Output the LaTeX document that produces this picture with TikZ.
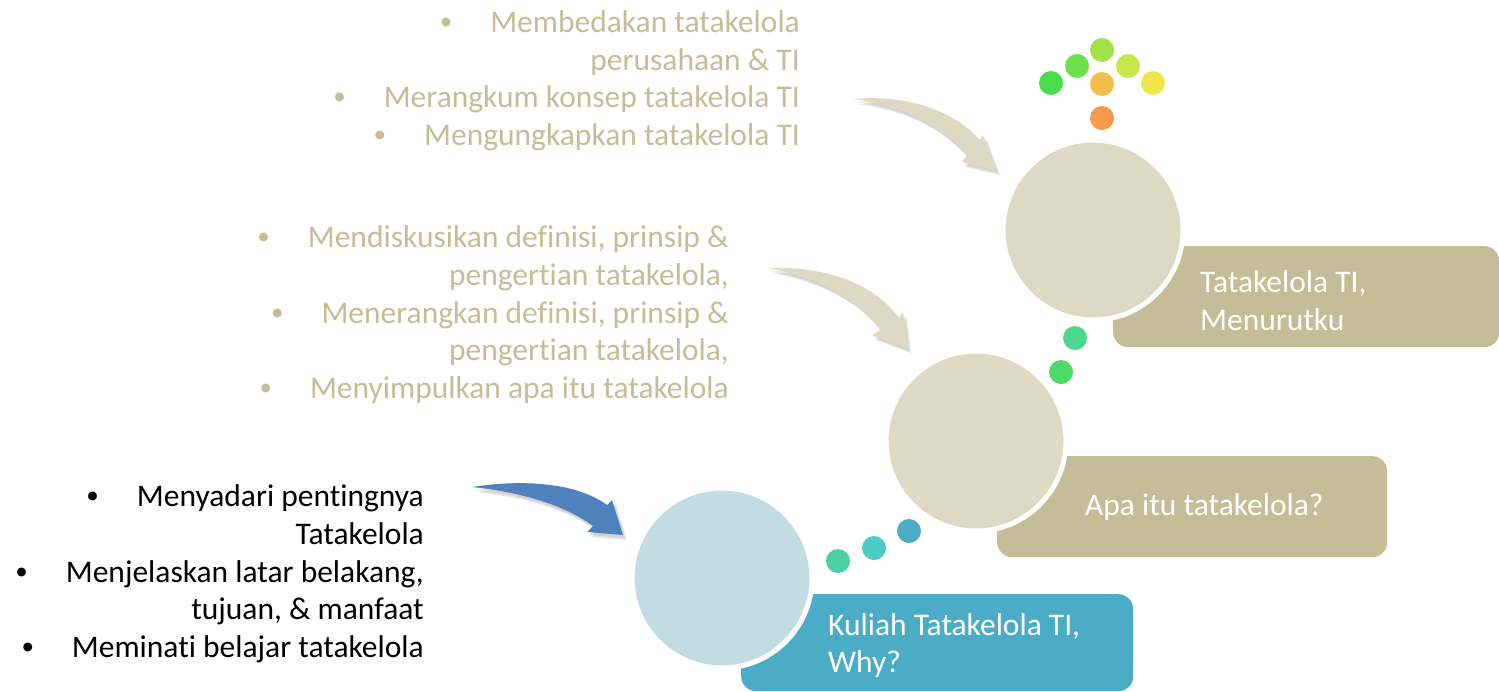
\documentclass[tikz,border=0pt]{standalone}
\usepackage{fontspec}
\setmainfont{Carlito}[Ligatures={NoCommon}, Contextuals={NoAlternate}, RawFeature={-liga;-clig;-calt}]
\definecolor{tanbox}{HTML}{C4BD97}
\definecolor{tancirc}{HTML}{DDD9C3}
\definecolor{bluebox}{HTML}{4BACC6}
\definecolor{bluecirc}{HTML}{C3DCE4}
\definecolor{bluearrow}{HTML}{4F81BD}
\definecolor{dA}{HTML}{4ADD4A}
\definecolor{dB}{HTML}{6EE04A}
\definecolor{dC}{HTML}{A0E24A}
\definecolor{dD}{HTML}{C8E84A}
\definecolor{dE}{HTML}{EEE64A}
\definecolor{dF}{HTML}{F2C04A}
\definecolor{dG}{HTML}{F5994A}
\definecolor{dH}{HTML}{4CD68E}
\definecolor{dI}{HTML}{4CDB66}
\definecolor{dJ}{HTML}{4BD0A6}
\definecolor{dK}{HTML}{4BCBC4}
\definecolor{dL}{HTML}{4BACC6}
\begin{document}
\begin{tikzpicture}[x=1pt,y=-1pt,
  txt/.style={inner sep=0pt, font=\fontsize{31.5}{37.8}\selectfont},
  lr/.style={txt, anchor=base east},
  bul/.style={inner sep=0pt, anchor=base, yshift=2.5pt, font=\fontsize{25}{30}\selectfont},
  boxtxt/.style={txt, anchor=base west, text=white},
  panel/.style={rounded corners=15pt, inner sep=0pt, anchor=north west},
  bigcirc/.style={circle, minimum size=180pt, inner sep=0pt, draw=white, line width=5pt},
  dot/.style={circle, minimum size=24pt, inner sep=0pt},
  shadowA/.style={fill=black, opacity=0.10, shift={(4,5)}},
  shadowB/.style={fill=black, opacity=0.08, shift={(2,3)}}
]
\useasboundingbox (0,0) rectangle (1499,691);

% panels
\node[panel, fill=tanbox, minimum width=386pt, minimum height=101pt] (pTop) at (1113,246) {};
\node[panel, fill=tanbox, minimum width=390pt, minimum height=101pt] (pMid) at (997,456) {};
\node[panel, fill=bluebox, minimum width=392pt, minimum height=97pt] (pBot) at (741,594) {};

% circles
\node[bigcirc, fill=tancirc] (cTop) at (1093,230) {};
\node[bigcirc, fill=tancirc] (cMid) at (976,441) {};
\node[bigcirc, fill=bluecirc] (cBot) at (722,578) {};

% panel texts
\node[boxtxt] (pt1) at (1200,292) {Tatakelola TI,};
\node[boxtxt] (pt2) at (1200,330) {Menurutku};
\node[boxtxt] (pm1) at (1085,515) {Apa itu tatakelola?};
\node[boxtxt] (pb1) at (828,635) {Kuliah Tatakelola TI,};
\node[boxtxt] (pb2) at (828,672) {Why?};

% dots
\node[dot, fill=dA] (d1) at (1051,83) {};
\node[dot, fill=dB] (d2) at (1077,66) {};
\node[dot, fill=dC] (d3) at (1102,50) {};
\node[dot, fill=dD] (d4) at (1128,66) {};
\node[dot, fill=dE] (d5) at (1153,83) {};
\node[dot, fill=dF] (d6) at (1102,84) {};
\node[dot, fill=dG] (d7) at (1102,118) {};
\node[dot, fill=dH] (d8) at (1075,338) {};
\node[dot, fill=dI] (d9) at (1061,372) {};
\node[dot, fill=dJ] (d10) at (838,561) {};
\node[dot, fill=dK] (d11) at (874,548) {};
\node[dot, fill=dL] (d12) at (909,531) {};

% top text block
\node[lr, text=tanbox] (a1) at (800,32) {Membedakan tatakelola};
\node[lr, text=tanbox] (a2) at (800,70) {perusahaan \& TI};
\node[lr, text=tanbox] (a3) at (800,107) {Merangkum konsep tatakelola TI};
\node[lr, text=tanbox] (a4) at (800,145) {Mengungkapkan tatakelola TI};
\node[bul, text=tanbox] (ab1) at ([xshift=-44pt]a1.base west) {•};
\node[bul, text=tanbox] (ab3) at ([xshift=-44pt]a3.base west) {•};
\node[bul, text=tanbox] (ab4) at ([xshift=-44pt]a4.base west) {•};

% middle text block
\node[lr, text=tanbox] (b1) at (729,247) {Mendiskusikan definisi, prinsip \&};
\node[lr, text=tanbox] (b2) at (729,285) {pengertian tatakelola,};
\node[lr, text=tanbox] (b3) at (729,323) {Menerangkan definisi, prinsip \&};
\node[lr, text=tanbox] (b4) at (729,360) {pengertian tatakelola,};
\node[lr, text=tanbox] (b5) at (729,398) {Menyimpulkan apa itu tatakelola};
\node[bul, text=tanbox] (bb1) at ([xshift=-44pt]b1.base west) {•};
\node[bul, text=tanbox] (bb3) at ([xshift=-44pt]b3.base west) {•};
\node[bul, text=tanbox] (bb5) at ([xshift=-44pt]b5.base west) {•};

% bottom text block
\node[lr] (c1) at (424,506) {Menyadari pentingnya};
\node[lr] (c2) at (424,544) {Tatakelola};
\node[lr] (c3) at (424,582) {Menjelaskan latar belakang,};
\node[lr] (c4) at (424,619) {tujuan, \& manfaat};
\node[lr] (c5) at (424,657) {Meminati belajar tatakelola};
\node[bul] (cb1) at ([xshift=-44pt]c1.base west) {•};
\node[bul] (cb3) at ([xshift=-44pt]c3.base west) {•};
\node[bul] (cb5) at ([xshift=-44pt]c5.base west) {•};

% curved block arrows: soft shadows, then the arrows
\foreach \s in {shadowA, shadowB} {
  \fill[\s] (853,99) .. controls (910,94) and (955,112) .. (980,140)
    -- (983,135) -- (996,170) -- (962,162) -- (967,155)
    .. controls (940,125) and (905,106) .. (853,99) -- cycle;
  \fill[\s] (768,268) .. controls (830,266) and (875,285) .. (899,318)
    -- (903,312) -- (907,348) -- (872,335) -- (880,330)
    .. controls (860,300) and (820,278) .. (768,268) -- cycle;
  \fill[\s] (472,487) .. controls (530,478) and (580,485) .. (607,505)
    -- (612,500) -- (623,535) -- (587,532) -- (593,526)
    .. controls (565,505) and (520,492) .. (472,487) -- cycle;
}
\fill[tancirc] (853,99) .. controls (910,94) and (955,112) .. (980,140)
  -- (983,135) -- (996,170) -- (962,162) -- (967,155)
  .. controls (940,125) and (905,106) .. (853,99) -- cycle;
\fill[tancirc] (768,268) .. controls (830,266) and (875,285) .. (899,318)
  -- (903,312) -- (907,348) -- (872,335) -- (880,330)
  .. controls (860,300) and (820,278) .. (768,268) -- cycle;
\fill[bluearrow] (472,487) .. controls (530,478) and (580,485) .. (607,505)
  -- (612,500) -- (623,535) -- (587,532) -- (593,526)
  .. controls (565,505) and (520,492) .. (472,487) -- cycle;
\end{tikzpicture}
\end{document}
